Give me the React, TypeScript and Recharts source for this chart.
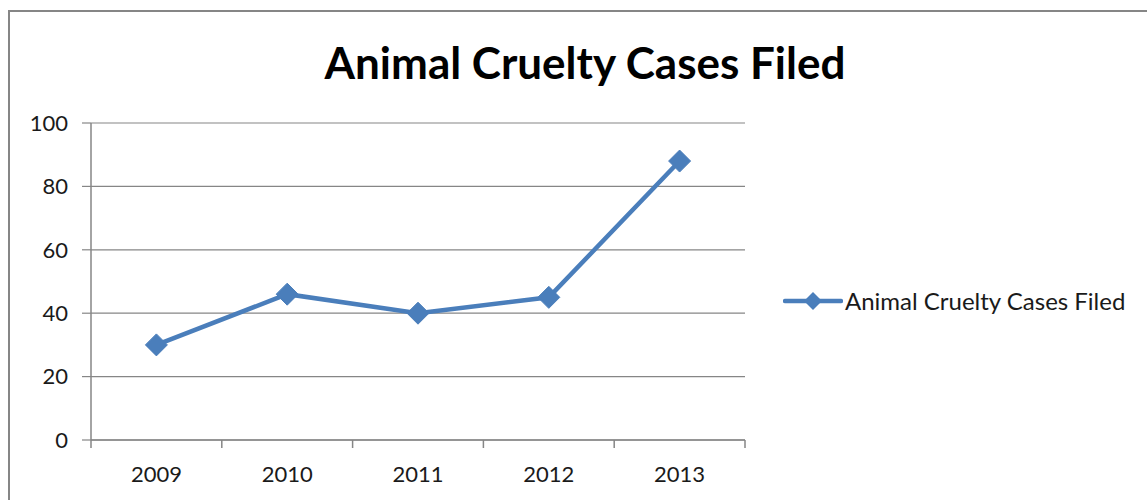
import React from "react";
import { LineChart, Line, XAxis, YAxis, CartesianGrid } from "recharts";

const years = ["2009", "2010", "2011", "2012", "2013"];
const casesFiled = [30, 46, 40, 45, 88];
const yTicks = [0, 20, 40, 60, 80, 100];

const LINE_COLOR = "#4A7EBB";
const AXIS_COLOR = "#868686";
const FONT = "Lato, 'Open Sans', sans-serif";

// x sits in the middle of each category band so ticks can go on the boundaries
const data = years.map((year, i) => ({ year, x: i + 0.5, cases: casesFiled[i] }));
const xTicks = Array.from({ length: years.length * 2 + 1 }, (_, i) => i / 2);

function Diamond(props: any) {
  const { cx, cy } = props;
  if (cx == null || cy == null) return null;
  const r = 11;
  return (
    <path
      d={`M${cx},${cy - r} L${cx + r},${cy} L${cx},${cy + r} L${cx - r},${cy} Z`}
      fill={LINE_COLOR}
      stroke={LINE_COLOR}
    />
  );
}

// tick y comes in already shifted by tickSize + tickMargin (8px) below the axis
function XTick(props: any) {
  const { x, y, payload } = props;
  const v = payload.value as number;
  if (Number.isInteger(v)) {
    return <line x1={x} y1={y - 8} x2={x} y2={y} stroke={AXIS_COLOR} strokeWidth={1.5} />;
  }
  return (
    <text x={x} y={y + 34} textAnchor="middle" fontSize={22} fontFamily={FONT} fill="#1a1a1a">
      {years[Math.floor(v)]}
    </text>
  );
}

export default function App() {
  return (
    <div style={{ position: "absolute", left: 0, top: 0, width: 1147, height: 500, overflow: "hidden", background: "#fff" }}>
      <div
        style={{
          position: "absolute",
          left: 8,
          top: 10,
          width: 1200,
          height: 600,
          border: `2px solid ${AXIS_COLOR}`,
          boxSizing: "border-box",
        }}
      />
      <div
        style={{
          position: "absolute",
          left: 0,
          top: 35,
          width: 1170,
          textAlign: "center",
          fontFamily: FONT,
          fontWeight: 700,
          fontSize: 44,
          color: "#000",
          lineHeight: "54px",
        }}
      >
        Animal Cruelty Cases Filed
      </div>

      <div style={{ position: "absolute", left: 0, top: 0 }}>
        <LineChart
          width={1147}
          height={500}
          data={data}
          margin={{ top: 123, right: 402, bottom: 0, left: 0 }}
        >
          <CartesianGrid vertical={false} stroke={AXIS_COLOR} strokeWidth={1.2} />
          <XAxis
            dataKey="x"
            type="number"
            domain={[0, years.length]}
            ticks={xTicks}
            interval={0}
            height={60}
            axisLine={{ stroke: AXIS_COLOR, strokeWidth: 1.5 }}
            tickLine={false}
            tick={<XTick />}
          />
          <YAxis
            domain={[0, 100]}
            ticks={yTicks}
            width={91}
            interval={0}
            axisLine={{ stroke: AXIS_COLOR, strokeWidth: 1.5 }}
            tickLine={{ stroke: AXIS_COLOR, strokeWidth: 1.2 }}
            tickSize={9}
            tickMargin={14}
            tick={{ fontSize: 22, fontFamily: FONT, fill: "#1a1a1a" }}
          />
          <Line
            type="linear"
            dataKey="cases"
            name="Animal Cruelty Cases Filed"
            stroke={LINE_COLOR}
            strokeWidth={4.5}
            dot={<Diamond />}
            activeDot={false}
            isAnimationActive={false}
          />
        </LineChart>
      </div>

      <div
        style={{
          position: "absolute",
          left: 783,
          top: 286,
          display: "flex",
          alignItems: "center",
          fontFamily: FONT,
          fontSize: 24,
          color: "#1a1a1a",
          whiteSpace: "nowrap",
        }}
      >
        <svg width={60} height={28}>
          <line x1={2} y1={14} x2={58} y2={14} stroke={LINE_COLOR} strokeWidth={4.5} strokeLinecap="round" />
          <path d="M30,5 L39,14 L30,23 L21,14 Z" fill={LINE_COLOR} />
        </svg>
        <span style={{ marginLeft: 2 }}>Animal Cruelty Cases Filed</span>
      </div>
    </div>
  );
}
